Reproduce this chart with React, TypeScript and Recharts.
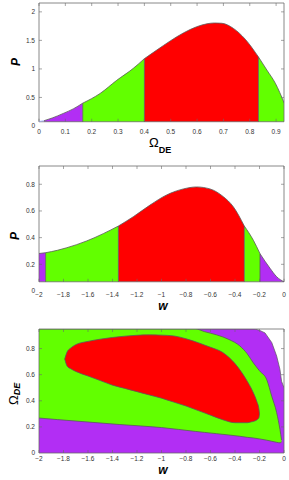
import React from 'react';
import {
  ComposedChart,
  Area,
  Line,
  XAxis,
  YAxis,
  ReferenceArea,
  ReferenceLine,
} from 'recharts';

// marginal posterior of Omega_DE
const omegaGrid = [0, 0.019, 0.05, 0.092, 0.13, 0.166, 0.232, 0.295, 0.358, 0.4, 0.447, 0.498, 0.548, 0.599, 0.637, 0.666, 0.694, 0.738, 0.783, 0.833, 0.865, 0.897, 0.931];
const omegaProb = [0.078, 0.093, 0.14, 0.22, 0.3, 0.4, 0.57, 0.8, 1.01, 1.18, 1.33, 1.49, 1.63, 1.74, 1.79, 1.805, 1.8, 1.71, 1.52, 1.21, 0.98, 0.75, 0.4];
const omegaEdges = [0.019, 0.166, 0.4, 0.833, 0.931];
const omegaLevels = ['purple', 'green', 'red', 'green'];
const omegaFloor = 0.075;

// marginal posterior of w
const wGrid = [-2, -1.946, -1.85, -1.774, -1.611, -1.475, -1.352, -1.23, -1.094, -0.958, -0.822, -0.713, -0.604, -0.495, -0.414, -0.324, -0.25, -0.196, -0.114, -0.06, 0];
const wProb = [0.281, 0.287, 0.305, 0.324, 0.375, 0.43, 0.487, 0.557, 0.644, 0.72, 0.765, 0.78, 0.765, 0.707, 0.632, 0.487, 0.38, 0.28, 0.17, 0.107, 0.069];
const wEdges = [-2, -1.946, -1.352, -0.324, -0.196, 0];
const wLevels = ['purple', 'green', 'red', 'green', 'purple'];
const wFloor = 0.069;

// joint contours (w, Omega_DE)
const redW = [-1.79, -1.77, -1.74, -1.7, -1.6, -1.5, -1.4, -1.3, -1.2, -1.1, -1.0, -0.9, -0.8, -0.7, -0.6, -0.5, -0.4, -0.3, -0.27, -0.24, -0.22, -0.205, -0.2];
const redLow = [0.72, 0.665, 0.645, 0.625, 0.59, 0.555, 0.52, 0.495, 0.47, 0.445, 0.42, 0.39, 0.36, 0.325, 0.29, 0.255, 0.232, 0.232, 0.238, 0.245, 0.255, 0.27, 0.3];
const redHigh = [0.72, 0.775, 0.805, 0.83, 0.855, 0.872, 0.885, 0.895, 0.902, 0.905, 0.903, 0.897, 0.875, 0.845, 0.81, 0.77, 0.685, 0.55, 0.5, 0.44, 0.39, 0.34, 0.3];

const greenW = [-2, -1.85, -1.34, -1.0, -0.72, -0.65, -0.55, -0.45, -0.36, -0.3, -0.25, -0.2, -0.14, -0.1, -0.06, -0.033, -0.02];
const greenLow = [0.268, 0.256, 0.218, 0.195, 0.165, 0.158, 0.148, 0.138, 0.128, 0.12, 0.115, 0.108, 0.098, 0.09, 0.082, 0.078, 0.085];
const greenHigh = [0.95, 0.95, 0.95, 0.95, 0.95, 0.93, 0.905, 0.87, 0.82, 0.76, 0.69, 0.63, 0.56, 0.435, 0.31, 0.18, 0.1];

const purpleW = [-2, -0.24, -0.2, -0.155, -0.1, -0.06, -0.033, -0.02, 0];
const purpleHigh = [0.95, 0.95, 0.94, 0.92, 0.846, 0.743, 0.64, 0.55, 0.5];

const omegaTicks = [0, 0.1, 0.2, 0.3, 0.4, 0.5, 0.6, 0.7, 0.8, 0.9];
const omegaProbTicks = [0, 0.5, 1, 1.5, 2];
const wTicks = [-2, -1.8, -1.6, -1.4, -1.2, -1, -0.8, -0.6, -0.4, -0.2, 0];
const wProbTicks = [0, 0.2, 0.4, 0.6, 0.8];
const omegaDeTicks = [0, 0.2, 0.4, 0.6, 0.8];

const COLORS: Record<string, string> = { purple: '#b22ef4', green: '#62ff00', red: '#ff0000' };
const EDGE = '#5a5a5a';
const BOX = '#6a6a6a';
const TEXT = '#333';
const FONT = '"Liberation Sans", Arial, Helvetica, sans-serif';
const PLOT_W = 245;

const fmt = (v: number) => (v < 0 ? '\u2212' + String(-v) : String(v));

function bandRows(grid: number[], prob: number[], edges: number[]) {
  return grid.map((x, i) => {
    const row: any = { x };
    for (let b = 0; b < edges.length - 1; b++) {
      if (x >= edges[b] - 1e-9 && x <= edges[b + 1] + 1e-9) row['b' + b] = prob[i];
    }
    if (x <= edges[0]) row.tail = prob[i];
    return row;
  });
}

const LeftTick = (props: any) => {
  const { x, y, payload, floor } = props;
  const inside = payload.value > floor;
  return (
    <g>
      <text x={x} y={y} dy="0.35em" textAnchor="end" fontSize={6.5} fontFamily={FONT} fill={TEXT}>
        {fmt(payload.value)}
      </text>
      {inside && <line x1={x + 4} x2={x + 7} y1={y} y2={y} stroke={BOX} strokeWidth={0.6} />}
      {inside && (
        <line x1={x + 4 + PLOT_W} x2={x + 1 + PLOT_W} y1={y} y2={y} stroke={BOX} strokeWidth={0.6} />
      )}
    </g>
  );
};

// tick label below the axis plus short inward ticks on the box bottom and top
const BottomTick = (props: any) => {
  const { x, y, payload, toBottom, toTop } = props;
  const yb = y - toBottom;
  const yt = y - toTop;
  return (
    <g>
      <text x={x} y={y} dy="0.71em" textAnchor="middle" fontSize={6.5} fontFamily={FONT} fill={TEXT}>
        {fmt(payload.value)}
      </text>
      <line x1={x} x2={x} y1={yb} y2={yb - 3} stroke={BOX} strokeWidth={0.6} />
      <line x1={x} x2={x} y1={yt} y2={yt + 3} stroke={BOX} strokeWidth={0.6} />
    </g>
  );
};

function DensityPanel(props: any) {
  const { grid, prob, edges, levels, floor, xDomain, yMax, xTicks, yTicks, top, marginTop, plotH, gap } = props;
  const rows = bandRows(grid, prob, edges);
  const lift = (floor / yMax) * plotH;
  return (
    <div style={{ position: 'absolute', left: 0, top }}>
      <ComposedChart
        width={289}
        height={marginTop + plotH + 20}
        data={rows}
        margin={{ top: marginTop, right: 5, bottom: 0, left: 0 }}
      >
        <XAxis
          type="number"
          dataKey="x"
          domain={xDomain}
          ticks={xTicks}
          interval={0}
          allowDataOverflow
          axisLine={false}
          tickLine={false}
          tickSize={0}
          tickMargin={gap}
          height={20}
          tick={(p: any) => <BottomTick {...p} toBottom={lift + gap} toTop={plotH + gap} />}
        />
        <YAxis
          type="number"
          domain={[0, yMax]}
          ticks={yTicks}
          interval={0}
          allowDataOverflow
          axisLine={false}
          tickLine={false}
          tickSize={0}
          tickMargin={4}
          width={39}
          tick={(p: any) => <LeftTick {...p} floor={floor} />}
        />
        {levels.map((lvl: string, b: number) => (
          <Area
            key={'b' + b}
            type="monotone"
            dataKey={'b' + b}
            baseValue={floor}
            fill={COLORS[lvl]}
            fillOpacity={1}
            stroke={EDGE}
            strokeWidth={0.8}
            dot={false}
            activeDot={false}
            isAnimationActive={false}
          />
        ))}
        <Line
          type="linear"
          dataKey="tail"
          stroke="#9fb0ff"
          strokeWidth={0.8}
          dot={false}
          activeDot={false}
          isAnimationActive={false}
        />
        {edges.slice(1, -1).map((e: number) => (
          <ReferenceLine
            key={'e' + e}
            segment={[
              { x: e, y: floor },
              { x: e, y: prob[grid.indexOf(e)] },
            ]}
            stroke={EDGE}
            strokeWidth={0.8}
          />
        ))}
        <ReferenceArea
          x1={xDomain[0]}
          x2={xDomain[1]}
          y1={floor}
          y2={yMax}
          fill="none"
          stroke={BOX}
          strokeWidth={0.8}
          ifOverflow="visible"
        />
      </ComposedChart>
    </div>
  );
}

function ContourPanel() {
  const plotH = 124;
  const red = redW.map((w, i) => ({ w, band: [redLow[i], redHigh[i]] }));
  const green = greenW.map((w, i) => ({ w, band: [greenLow[i], greenHigh[i]] }));
  const purple = purpleW.map((w, i) => ({ w, top: purpleHigh[i] }));
  return (
    <div style={{ position: 'absolute', left: 0, top: 310 }}>
      <ComposedChart width={289} height={19 + plotH + 20} margin={{ top: 19, right: 5, bottom: 0, left: 0 }}>
        <XAxis
          type="number"
          dataKey="w"
          domain={[-2, 0]}
          ticks={wTicks}
          interval={0}
          allowDataOverflow
          axisLine={false}
          tickLine={false}
          tickSize={0}
          tickMargin={3}
          height={20}
          tick={(p: any) => <BottomTick {...p} toBottom={3} toTop={plotH + 3} />}
        />
        <YAxis
          type="number"
          domain={[0, 0.95]}
          ticks={omegaDeTicks}
          interval={0}
          allowDataOverflow
          axisLine={false}
          tickLine={false}
          tickSize={0}
          tickMargin={4}
          width={39}
          tick={(p: any) => <LeftTick {...p} floor={0} />}
        />
        <Area
          data={purple}
          type="linear"
          dataKey="top"
          baseValue={0}
          fill={COLORS.purple}
          fillOpacity={1}
          stroke={EDGE}
          strokeWidth={0.7}
          dot={false}
          activeDot={false}
          isAnimationActive={false}
        />
        <Area
          data={green}
          type="monotone"
          dataKey="band"
          fill={COLORS.green}
          fillOpacity={1}
          stroke={EDGE}
          strokeWidth={0.8}
          dot={false}
          activeDot={false}
          isAnimationActive={false}
        />
        <Area
          data={red}
          type="monotone"
          dataKey="band"
          fill={COLORS.red}
          fillOpacity={1}
          stroke={EDGE}
          strokeWidth={0.8}
          dot={false}
          activeDot={false}
          isAnimationActive={false}
        />
        <ReferenceArea
          x1={-2}
          x2={0}
          y1={0}
          y2={0.95}
          fill="none"
          stroke={BOX}
          strokeWidth={0.8}
          ifOverflow="visible"
        />
      </ComposedChart>
    </div>
  );
}

function Titles() {
  const bi = { fontWeight: 'bold' as const, fontStyle: 'italic' as const };
  return (
    <svg
      width={289}
      height={480}
      style={{ position: 'absolute', left: 0, top: 0, pointerEvents: 'none' }}
      fontFamily={FONT}
      fill="#000"
    >
      <text x={149} y={146.5} fontSize={13}>
        Ω
        <tspan fontSize={9} fontWeight="bold" dy={6}>
          DE
        </tspan>
      </text>
      <text transform="translate(20,62) rotate(-90)" textAnchor="middle" fontSize={12} {...bi}>
        P
      </text>
      <text x={163} y={310} textAnchor="middle" fontSize={12} {...bi}>
        w
      </text>
      <text transform="translate(19,236) rotate(-90)" textAnchor="middle" fontSize={12} {...bi}>
        P
      </text>
      <text x={163} y={474} textAnchor="middle" fontSize={12} {...bi}>
        w
      </text>
      <text transform="translate(18,405) rotate(-90)" fontSize={13}>
        Ω
        <tspan fontSize={9} dy={2} {...bi}>
          DE
        </tspan>
      </text>
    </svg>
  );
}

export default function App() {
  return (
    <div style={{ position: 'absolute', left: 0, top: 0, width: 289, height: 480, background: '#fff' }}>
      <DensityPanel
        grid={omegaGrid}
        prob={omegaProb}
        edges={omegaEdges}
        levels={omegaLevels}
        floor={omegaFloor}
        xDomain={[0, 0.93]}
        yMax={2.155}
        xTicks={omegaTicks}
        yTicks={omegaProbTicks}
        top={0}
        marginTop={3}
        plotH={123}
        gap={3}
      />
      <DensityPanel
        grid={wGrid}
        prob={wProb}
        edges={wEdges}
        levels={wLevels}
        floor={wFloor}
        xDomain={[-2, 0]}
        yMax={0.937}
        xTicks={wTicks}
        yTicks={wProbTicks}
        top={150}
        marginTop={16}
        plotH={125}
        gap={1}
      />
      <ContourPanel />
      <Titles />
    </div>
  );
}
